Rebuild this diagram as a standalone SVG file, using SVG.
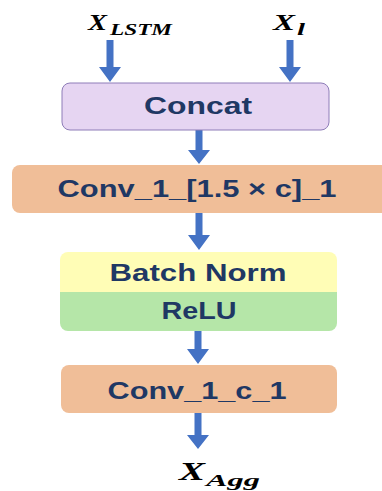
<svg xmlns="http://www.w3.org/2000/svg" width="382" height="491" viewBox="0 0 382 491">
<style>
.lbl{font-family:"Liberation Sans",Arial,sans-serif;font-weight:bold;font-size:23px;fill:#1F3864;text-anchor:middle}
.mx{font-family:"Liberation Serif","Times New Roman",serif;font-weight:bold;font-style:italic;fill:#000}
.arr{fill:#4472C4}
</style>
<g id="connectors">
<path class="arr" d="M106.5,40 H113.5 V67 H121 L110,82 L99,67 H106.5 Z"/>
<path class="arr" d="M286.5,40 H293.5 V67 H301 L290,82 L279,67 H286.5 Z"/>
<path class="arr" d="M195.5,130 H202.5 V150 H210 L199,164 L188,150 H195.5 Z"/>
<path class="arr" d="M195.5,213 H202.5 V235 H210 L199,250 L188,235 H195.5 Z"/>
<path class="arr" d="M194.5,331 H201.5 V349 H209 L198,364 L187,349 H194.5 Z"/>
<path class="arr" d="M194.5,413 H201.5 V435 H209 L198,449 L187,435 H194.5 Z"/>
</g>
<g id="x_lstm">
<text class="mx" x="88" y="30" font-size="23" textLength="19" lengthAdjust="spacingAndGlyphs">X</text>
<text class="mx" x="110" y="35" font-size="16" textLength="62" lengthAdjust="spacingAndGlyphs">LSTM</text>
</g>
<g id="x_l">
<text class="mx" x="273" y="30" font-size="23" textLength="22" lengthAdjust="spacingAndGlyphs">X</text>
<text class="mx" x="297" y="35" font-size="16" textLength="8" lengthAdjust="spacingAndGlyphs">l</text>
</g>
<g id="concat">
<rect x="62" y="83" width="267" height="47" rx="8" fill="#E6D5F2" stroke="#8E7DB8" stroke-width="1"/>
<text class="lbl" x="198" y="114" textLength="108" lengthAdjust="spacingAndGlyphs">Concat</text>
</g>
<g id="conv1">
<rect x="12" y="165" width="380" height="48" rx="8" fill="#F0BE98"/>
<text class="lbl" x="197" y="197" textLength="279" lengthAdjust="spacingAndGlyphs">Conv_1_[1.5 × c]_1</text>
</g>
<g id="bn_relu">
<path d="M68,252 H329 A8,8 0 0 1 337,260 V292 H60 V260 A8,8 0 0 1 68,252 Z" fill="#FFFDB6"/>
<path d="M60,292 H337 V323 A8,8 0 0 1 329,331 H68 A8,8 0 0 1 60,323 Z" fill="#B5E6A8"/>
<text class="lbl" x="198" y="281" textLength="177" lengthAdjust="spacingAndGlyphs">Batch Norm</text>
<text class="lbl" x="199" y="319" textLength="75" lengthAdjust="spacingAndGlyphs">ReLU</text>
</g>
<g id="conv2">
<rect x="61" y="365" width="276" height="48" rx="8" fill="#F0BE98"/>
<text class="lbl" x="197" y="399" textLength="179" lengthAdjust="spacingAndGlyphs">Conv_1_c_1</text>
</g>
<g id="x_agg">
<text class="mx" x="179" y="480" font-size="25" textLength="26" lengthAdjust="spacingAndGlyphs">X</text>
<text class="mx" x="206" y="486" font-size="17" textLength="54" lengthAdjust="spacingAndGlyphs">Agg</text>
</g>
</svg>
